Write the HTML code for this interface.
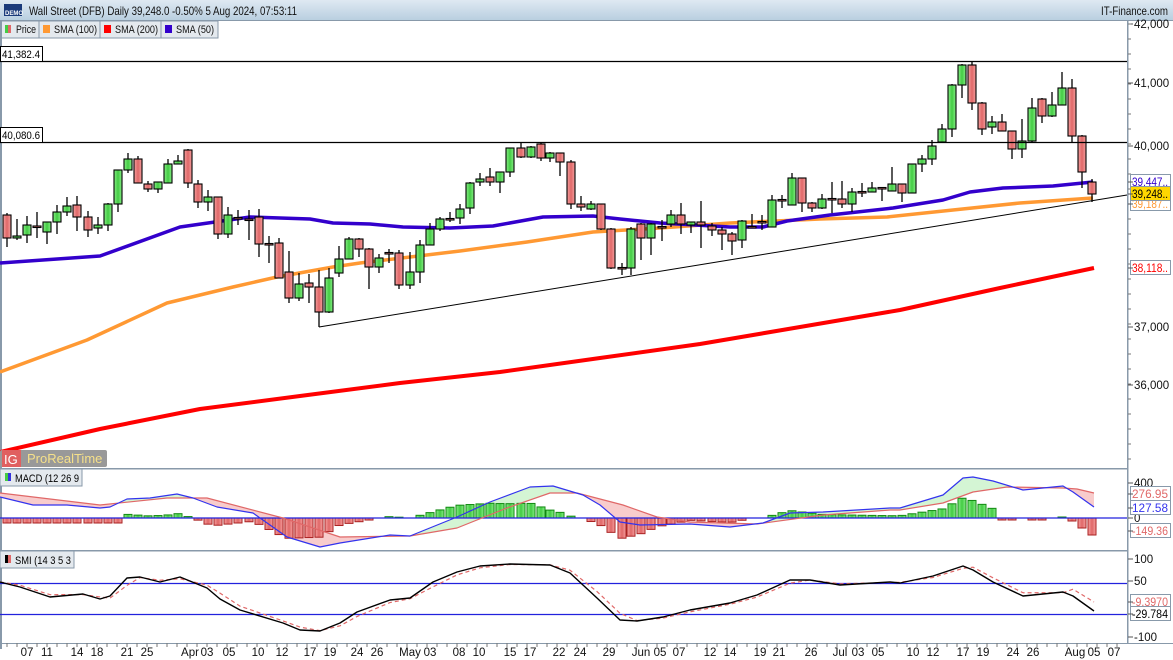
<!DOCTYPE html>
<html><head><meta charset="utf-8"><style>
body{margin:0;width:1173px;height:660px;overflow:hidden;background:#fff;font-family:"Liberation Sans",sans-serif;}
svg{display:block}
</style></head><body>
<svg id="s" width="1173" height="660" xmlns="http://www.w3.org/2000/svg" font-family="Liberation Sans, sans-serif">
<defs>
<linearGradient id="hd" x1="0" y1="0" x2="0" y2="1"><stop offset="0" stop-color="#dfe9f2"/><stop offset="1" stop-color="#b9cfe0"/></linearGradient>
<linearGradient id="gg" x1="0" y1="0" x2="1" y2="0"><stop offset="0" stop-color="#88ee88"/><stop offset="0.5" stop-color="#44cc44"/><stop offset="1" stop-color="#88ee88"/></linearGradient>
<linearGradient id="rg" x1="0" y1="0" x2="1" y2="0"><stop offset="0" stop-color="#f5a0a0"/><stop offset="0.5" stop-color="#e06868"/><stop offset="1" stop-color="#f5a0a0"/></linearGradient>
</defs>
<rect x="0" y="0" width="1173" height="20" fill="url(#hd)"/>
<rect x="0" y="20" width="1173" height="1" fill="#8899aa"/>
<rect x="4" y="4" width="18" height="12" fill="#1a3a7a"/>
<text x="5" y="15" font-size="6" fill="#fff" font-weight="bold">DEMO</text>
<text x="29" y="15" font-size="12" fill="#111" textLength="268" lengthAdjust="spacingAndGlyphs">Wall Street (DFB) Daily 39,248.0 -0.50% 5 Aug 2024, 07:53:11</text>
<text x="1101" y="15" font-size="12" fill="#111" textLength="67" lengthAdjust="spacingAndGlyphs">IT-Finance.com</text>
<g font-size="11" fill="#111">
<rect x="0" y="21" width="218" height="17" fill="#e4e9ee" stroke="#8899aa"/>
<line x1="39" y1="21" x2="39" y2="38" stroke="#8899aa"/><line x1="100" y1="21" x2="100" y2="38" stroke="#8899aa"/><line x1="161" y1="21" x2="161" y2="38" stroke="#8899aa"/>
<rect x="5" y="25" width="3" height="8" fill="#44cc44"/><rect x="8" y="25" width="3" height="8" fill="#e06868"/><text x="16" y="33" textLength="20" lengthAdjust="spacingAndGlyphs">Price</text>
<rect x="43" y="25" width="7" height="8" fill="#ff9933"/><text x="54" y="33" textLength="43" lengthAdjust="spacingAndGlyphs">SMA (100)</text>
<rect x="104" y="25" width="7" height="8" fill="#ff0000"/><text x="115" y="33" textLength="43" lengthAdjust="spacingAndGlyphs">SMA (200)</text>
<rect x="165" y="25" width="7" height="8" fill="#3300cc"/><text x="176" y="33" textLength="38" lengthAdjust="spacingAndGlyphs">SMA (50)</text>
</g>
<rect x="0" y="21" width="2" height="628" fill="#8899aa"/>
<g id="main"></g>
<line x1="0" y1="61.5" x2="1128" y2="61.5" stroke="#000" stroke-width="1.2"/>
<line x1="0" y1="142.5" x2="1128" y2="142.5" stroke="#000" stroke-width="1.2"/>
<rect x="0.5" y="46.5" width="42" height="15" fill="#fff" stroke="#000"/><text x="2" y="58" font-size="11" textLength="38" lengthAdjust="spacingAndGlyphs">41,382.4</text>
<rect x="0.5" y="127.5" width="42" height="15" fill="#fff" stroke="#000"/><text x="2" y="139" font-size="11" textLength="38" lengthAdjust="spacingAndGlyphs">40,080.6</text>
<rect x="0" y="450" width="107" height="17" rx="2" fill="#999"/>
<rect x="2" y="450" width="19" height="17" fill="#e06060"/>
<text x="4" y="464" font-size="13" fill="#fff">IG</text>
<text x="27" y="463" font-size="13" fill="#f5e08a">ProRealTime</text>
<rect x="0" y="468" width="1128" height="1.5" fill="#8899aa"/>
<rect x="0" y="550" width="1128" height="1.5" fill="#8899aa"/>
<rect x="0" y="643" width="1173" height="1" fill="#8899aa"/>
<rect x="1127" y="21" width="1.5" height="623" fill="#8899aa"/>
<g id="macd"></g>
<g id="smi"></g>
<rect x="0" y="469" width="82" height="17" fill="#e4e9ee" stroke="#8899aa"/>
<rect x="5" y="473" width="3" height="8" fill="#44cc44"/><rect x="8" y="473" width="3" height="8" fill="#3333dd"/>
<text x="15" y="482" font-size="11" textLength="64" lengthAdjust="spacingAndGlyphs">MACD (12 26 9</text>
<rect x="0" y="551" width="74" height="17" fill="#e4e9ee" stroke="#8899aa"/>
<rect x="5" y="555" width="3" height="8" fill="#000"/><rect x="8" y="555" width="3" height="8" fill="#e06868"/>
<text x="15" y="564" font-size="11" textLength="56" lengthAdjust="spacingAndGlyphs">SMI (14 3 5 3</text>
<g id="axis" font-size="11.5" fill="#111"></g>
</svg>
<script>
var NS="http://www.w3.org/2000/svg";
function el(p,t,a,txt){var e=document.createElementNS(NS,t);for(var k in a)e.setAttribute(k,a[k]);if(txt!==undefined)e.textContent=txt;document.getElementById(p).appendChild(e);return e;}
function pl(p,pts,col,w,dash){el(p,"polyline",{points:pts.map(function(q){return q[0]+","+q[1]}).join(" "),fill:"none",stroke:col,"stroke-width":w,"stroke-dasharray":dash||"","stroke-linejoin":"round"});}
var C=[[7,215,238,213,247,0],[17,236,238,219,240,1],[27,225,235,216,243,1],[37,226,227.5,212,238,0],[47,222,232,222,244,1],[57,212,222,205,234,1],[67,206,212,197,216,1],[77,205,217,196,231,0],[88,217,230,211,237,0],[98,225,228,217,234,1],[108,204,225,203,231,1],[118,170,204,170,212,1],[128,159,170,153,173,1],[138,159,183,156,183,0],[148,184,189,181,192,0],[158,182,189,182,193,1],[168,164,183,159,183,1],[178,161,164,155,164,1],[188,150,183,149,188,0],[198,184,202,180,208,0],[208,197,202,190,211,1],[218,197,234,197,239,0],[228,215,234,207,238,1],[238,217.5,218.5,210,225,0],[249,219,220,210,240,0],[259,217,244,209,257,0],[269,243.5,244.5,236,263,0],[279,243,278,238,278,0],[289,272,298,251,303,0],[299,284,298,273,301,1],[309,283,287,274,303,0],[319,287,312,270,327,0],[329,278,312,268,313,1],[339,259,273,246,277,1],[349,239,259,237,259,1],[359,239,249,238,257,0],[369,249,267,248,289,0],[379,258,267,254,273,1],[389,252.5,253.5,249,263,0],[399,253,285,250,289,0],[410,272,285,252,289,1],[420,245,272,240,283,1],[430,229,245,223,245,1],[440,219,229,217,231,1],[450,218.5,219.5,212,222,0],[460,209,218,204,224,1],[470,183,208,182,214,1],[480,179,182,173,186,1],[490,177,182,168,186,0],[500,172,182,172,193,1],[510,148,172,148,177,1],[521,148,157,143,158,0],[531,147,157,146,158,1],[541,144,158,143,161,0],[550,153,158,152,162,1],[560,153,162,153,176,0],[571,162,204,160,209,0],[581,204,207,196,211,0],[591,204,209,201,210,1],[601,204,229,204,230,0],[611,229,268,228,269,0],[622,267.5,268.5,263,275,0],[631,229,268,227,275,1],[641,224,238,223,260,0],[651,224,238,223,255,1],[662,226.5,227.5,220,241,0],[671,215,224,210,227,1],[681,215,224,203,234,0],[691,222,225,222,233,1],[701,222,225,201,248,0],[712,226,230,223,236,0],[722,230,234,227,250,0],[732,234,241,232,255,0],[742,221,240,220,248,1],[752,226.5,227.5,214,228,0],[762,221.5,222.5,215,230,0],[772,200,227,195,227,1],[782,199.5,200.5,195,208,0],[792,178,205,173,205,1],[802,178,203,178,212,0],[812,203,208,202,212,0],[822,199,208,194,209,1],[832,198.5,199.5,182,213,0],[842,199,204,181,208,0],[852,192,204,188,212,1],[862,191.5,192.5,183,197,0],[872,188,192,182,192,1],[882,187.5,188.5,188,201,0],[892,184,191,167,191,1],[902,184,193,184,202,0],[912,164,193,164,193,1],[922,159,164,155,172,1],[932,146,159,140,165,1],[942,129,142,124,142,1],[952,85,129,84,137,1],[962,65,85,64,98,1],[972,65,103,62,110,0],[982,103,129,102,135,0],[992,122,127,116,134,1],[1002,122,131,114,131,0],[1012,131,149,131,159,0],[1022,141,149,119,158,1],[1032,108,141,98,142,1],[1042,99,116,98,123,0],[1052,105,116,92,117,1],[1062,88,105,72,105,1],[1072,88,136,79,142,0],[1082,136,172,135,188,0],[1092,182,194,179,202,0]];
pl("main",[[0,452],[100,429],[200,409],[300,396],[400,383],[500,372],[600,358],[700,344],[800,327],[900,310],[1000,288],[1094,268]],"#ff0000",4);
pl("main",[[0,372],[87,340],[167,303],[233,287],[277,277],[333,267],[360,263],[460,251],[527,242],[593,232],[660,228],[730,223],[820,219],[887,217],[953,210],[1020,203],[1093,198]],"#ff9933",3.5);
pl("main",[[0,263],[100,256],[180,227],[250,217],[310,219],[333,223],[370,224],[403,227],[450,228],[493,226],[543,217],[593,216],[620,219],[660,223],[730,227],[763,227],[787,221],[830,215],[893,208],[943,200],[970,192],[1003,188],[1053,186],[1093,182]],"#3300cc",3.5);
el("main","line",{x1:319,y1:327,x2:1127,y2:195,stroke:"#000","stroke-width":1});
C.forEach(function(c){
 el("main","line",{x1:c[0],y1:c[3],x2:c[0],y2:c[4],stroke:"#000","stroke-width":1.3});
 var h=Math.max(c[2]-c[1],1.5);
 el("main","rect",{x:c[0]-4,y:c[1],width:8,height:h,fill:c[5]?"url(#gg)":"url(#rg)",stroke:"#000","stroke-width":1.1});
});
function interp(pts,x){if(x<=pts[0][0])return pts[0][1];for(var i=1;i<pts.length;i++){if(x<=pts[i][0]){var a=pts[i-1],b=pts[i];return a[1]+(b[1]-a[1])*(x-a[0])/(b[0]-a[0]);}}return pts[pts.length-1][1];}
var MB=[[0,497],[33,505],[67,505],[100,508],[110,507],[127,499],[150,498],[177,494],[193,498],[217,507],[253,513],[287,537],[320,547],[340,543],[390,535],[410,536],[457,517],[490,502],[530,487],[553,486],[583,495],[600,505],[620,522],[640,525],[690,524],[730,527],[763,523],[790,513],[823,512],[890,508],[900,508],[943,495],[963,478],[973,477],[993,481],[1023,490],[1063,486],[1073,492],[1094,507]];
var MR=[[0,493],[100,505],[167,498],[207,498],[283,518],[340,537],[410,536],[457,528],[507,508],[550,493],[577,493],[623,505],[657,517],[690,522],[757,524],[823,515],[890,510],[900,510],[943,503],[973,492],[1007,487],[1063,488],[1077,489],[1094,493]];
for(var x=0;x<1094;x+=2){var b1=interp(MB,x),r1=interp(MR,x),b2=interp(MB,x+2),r2=interp(MR,x+2);
 el("macd","polygon",{points:x+","+b1+" "+(x+2)+","+b2+" "+(x+2)+","+r2+" "+x+","+r1,fill:(b1+b2<r1+r2)?"#d4f5d4":"#f8cccc",stroke:"none"});}
C.forEach(function(c){var x=c[0];var v=(interp(MR,x)-interp(MB,x))*1.15;
 if(x<120)v=-5; if(x>1000&&x<1060)v=(x==1022||x==1052)?0:-2;
 if(x>1060){v={1062:1,1072:-3,1082:-10,1092:-17}[x]||v;}
 if(Math.abs(v)<0.8)return;
 el("macd","rect",{x:x-4,y:v>0?518-v:518,width:8,height:Math.abs(v),fill:v>0?"url(#gg)":"url(#rg)",stroke:v>0?"#118811":"#aa2222","stroke-width":1});});
el("macd","line",{x1:0,y1:518,x2:1127,y2:518,stroke:"#2222dd","stroke-width":1.3});
pl("macd",MR,"#e06868",1.2);pl("macd",MB,"#3333ee",1.2);
el("smi","line",{x1:0,y1:583.5,x2:1127,y2:583.5,stroke:"#2222dd","stroke-width":1.2});
el("smi","line",{x1:0,y1:614.5,x2:1127,y2:614.5,stroke:"#2222dd","stroke-width":1.2});
var SB=[[0,582],[20,587],[50,597],[83,594],[100,599],[110,596],[127,578],[140,577],[160,582],[180,577],[207,588],[220,599],[240,610],[283,623],[300,630],[320,631],[340,623],[357,612],[390,600],[410,598],[433,582],[457,572],[480,566],[510,564],[550,565],[570,573],[597,598],[620,620],[637,621],[663,617],[690,610],[730,603],[757,595],[790,580],[810,580],[840,585],[890,582],[900,583],[933,576],[963,566],[973,570],[993,582],[1023,596],[1063,592],[1073,596],[1094,611]];
var SR=SB.map(function(p,i){return [p[0],interp(SB,p[0]-7)+ (p[0]>1070?-4:0)]});
pl("smi",SR,"#e06868",1.2,"4,3");pl("smi",SB,"#000",1.4);
function at(x,y,s,col,anchor,tl){var a={x:x,y:y,fill:col||"#111","text-anchor":anchor||"start"};if(tl){a.textLength=tl;a.lengthAdjust="spacingAndGlyphs";}el("axis","text",a,s);}
function tk(y){el("axis","line",{x1:1128,y1:y,x2:1133,y2:y,stroke:"#555"});}
[[24,"42,000"],[83,"41,000"],[146,"40,000"],[268,"38,000"],[327,"37,000"],[385,"36,000"]].forEach(function(t){tk(t[0]);at(1134,t[0]+4,t[1]);});
for(var y=24;y<460;y+=15)el("axis","line",{x1:1128,y1:y,x2:1131,y2:y,stroke:"#777"});
function box(y,s,col,bg){el("axis","rect",{x:1130.5,y:y-7.5,width:40,height:14,fill:bg||"#fff",stroke:"#8899aa"});at(1132,y+4,s,col,null,36);tk(y);}
box(182,"39,447..","#3300cc");box(204,"39,187..","#ff9933");box(194,"39,248..","#000","#ffd700");box(268,"38,118..","#ff0000");
at(1134,487,"400");at(1134,522,"0");tk(483);tk(518);
box(494,"276.95","#e06868");box(508,"127.58","#3333ee");box(531,"-149.36","#e06868");
at(1134,563,"100");at(1134,585,"50");at(1134,641,"-100");tk(559);tk(581);tk(637);
box(602,"-9.3970","#e06868");box(614,"-29.784","#000");
[[27,"07"],[47,"11"],[77,"14"],[97,"18"],[127,"21"],[147,"25"],[190,"Apr"],[207,"03"],[229,"05"],[258,"10"],[282,"12"],[310,"17"],[330,"19"],[357,"24"],[377,"26"],[410,"May"],[430,"03"],[459,"08"],[479,"10"],[510,"15"],[530,"17"],[559,"22"],[580,"24"],[609,"29"],[641,"Jun"],[660,"05"],[679,"07"],[710,"12"],[730,"14"],[760,"19"],[779,"21"],[811,"26"],[840,"Jul"],[858,"03"],[878,"05"],[913,"10"],[933,"12"],[963,"17"],[983,"19"],[1013,"24"],[1033,"26"],[1075,"Aug"],[1094,"05"],[1114,"07"]].forEach(function(t){at(t[0],656,t[1],"#111","middle");});
for(var x=7;x<1125;x+=10)el("axis","line",{x1:x,y1:643,x2:x,y2:647,stroke:"#777"});
</script>
</body></html>
